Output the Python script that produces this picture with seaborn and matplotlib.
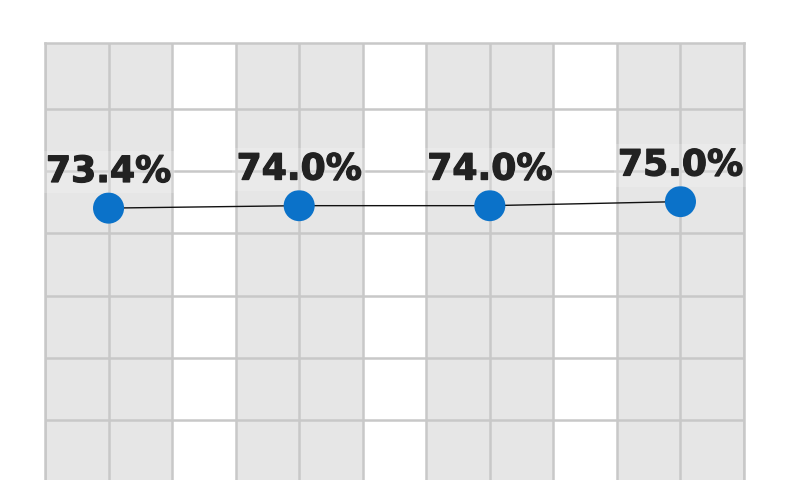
import numpy as np
import pandas as pd
import matplotlib
matplotlib.use("Agg")
import matplotlib.pyplot as plt
import matplotlib.patheffects as pe
import seaborn as sns

# ---- data ----
categories = ["P1", "P2", "P3", "P4"]
values = [73.4, 74.0, 74.0, 75.0]
labels = ["73.4%", "74.0%", "74.0%", "75.0%"]

df = pd.DataFrame({"pos": np.arange(len(categories)), "value": values, "cat": categories})

sns.set_theme(style="white")
plt.rcParams["font.family"] = ["DejaVu Sans"]

BG = "#e6e6e6"
GRID = "#c8c8c8"
BLUE = "#0b72c9"
TXT = "#222222"

fig = plt.figure(figsize=(8, 4.8), dpi=100, facecolor="white")
# axes: left 45px, right 744px, top 43px, bottom below the canvas
ax = fig.add_axes([45 / 800, -26.6 / 480, 699 / 800, (437 + 26.6) / 480])
ax.set_facecolor(BG)

ax.set_xlim(-1 / 3, len(categories) - 1 + 1 / 3)
ax.set_ylim(0, 114)

# white bands between categories
for k in range(len(categories) - 1):
    ax.axvspan(k + 1 / 3, k + 2 / 3, color="white", zorder=0.1, lw=0)

ax.set_xticks(np.arange(-1 / 3, len(categories) - 1 + 0.34, 1 / 3))
ax.set_yticks(np.arange(5.96, 105, 15.3))
ax.grid(True, color=GRID, linewidth=1.8, zorder=0.5)
ax.set_axisbelow(True)
ax.tick_params(length=0, labelleft=False, labelbottom=False)
for s in ax.spines.values():
    s.set_color(GRID)
    s.set_linewidth(1.8)

sns.lineplot(data=df, x="pos", y="value", color="#111111", linewidth=1.0, ax=ax, zorder=2)
sns.scatterplot(data=df, x="pos", y="value", color=BLUE, s=500, edgecolor="none", ax=ax, zorder=3)

for x, y, t in zip(df["pos"], df["value"], labels):
    ax.annotate(t, (x, y), xytext=(0, 18.8), textcoords="offset points",
                ha="center", va="baseline", fontsize=26, fontweight="bold",
                color=TXT, zorder=4,
                path_effects=[pe.withStroke(linewidth=0.9, foreground=TXT)],
                bbox=dict(boxstyle="square,pad=0.12", fc="white", ec="none", alpha=0.2))

ax.set_xlabel("")
ax.set_ylabel("")

fig.savefig("out.png", dpi=100, facecolor="white")
